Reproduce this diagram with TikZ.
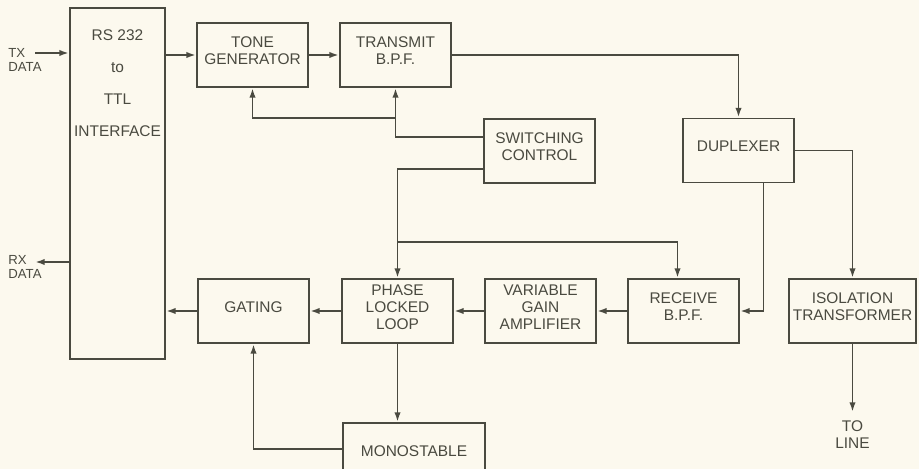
\documentclass[tikz,border=0pt]{standalone}
\usepackage{fontspec}
\setmainfont{Liberation Sans}
\usetikzlibrary{arrows.meta, positioning, calc}
\definecolor{myink}{RGB}{74, 74, 64}
\definecolor{mypaper}{RGB}{252, 249, 238}

\begin{document}
\begin{tikzpicture}[x=0.02cm, y=-0.02cm,
    txt/.style={text=myink, align=center, inner sep=1pt, font=\fontsize{8.8}{9.6}\selectfont},
    blk/.style={draw=myink, line width=1.1pt, minimum width=2.22cm, minimum height=1.28cm,
      label={[txt, yshift=0.08cm]center:#1}},
    lbl/.style={text=myink, align=left, inner sep=1pt, font=\fontsize{7.5}{8.5}\selectfont},
    wire/.style={draw=myink, line width=1.1pt},
    arr/.style={wire, -{Latex[length=5.5pt, width=3.6pt]}}]

    % --- Page ---
    \fill[mypaper] (0,0) rectangle (919,469);
    \useasboundingbox (0,0) rectangle (919,469);
    \clip (0,0) rectangle (919,469);

    % --- Interface block ---
    \node[blk={}, minimum width=1.9cm, minimum height=7.02cm] (iface) at (117.5,183.5) {};
    \node[txt, font=\fontsize{8.8}{18.1}\selectfont] (ifacetxt) at (117.5,83) {RS 232\\to\\TTL\\INTERFACE};

    % --- Transmit path ---
    \node[blk={TONE\\GENERATOR}] (tone) at (252.5,55) {};
    \node[blk={TRANSMIT\\B.P.F.}] (tx) at (395.5,55) {};
    \node[blk={SWITCHING\\CONTROL}] (sw) at (539.5,151) {};
    \node[blk={DUPLEXER}] (dup) at (738.5,150.5) {};

    % --- Receive path ---
    \node[blk={GATING}] (gate) at (253.5,311) {};
    \node[blk={PHASE\\LOCKED\\LOOP}] (pll) at (397.5,311) {};
    \node[blk={VARIABLE\\GAIN\\AMPLIFIER}] (vga) at (540.5,311) {};
    \node[blk={RECEIVE\\B.P.F.}] (rx) at (683.5,311) {};
    \node[blk={ISOLATION\\TRANSFORMER}, minimum width=2.54cm] (iso) at (852.5,311) {};
    \node[blk={MONOSTABLE}, minimum width=2.84cm] (mono) at (414,455) {};

    % --- Outside labels ---
    \coordinate (txin) at (35,53);
    \node[lbl] (txlbl) at (25,60) {TX\\DATA};
    \coordinate (rxout) at (35,262);
    \node[lbl] (rxlbl) at (25,267) {RX\\DATA};
    \coordinate (toline) at (852.5,412);
    \node[txt, below=4pt of toline] (linelbl) {TO\\LINE};

    % --- Connectors ---
    \draw[arr] (txin) -- (txin -| iface.west);
    \draw[arr] (rxout -| iface.west) -- (rxout);
    \draw[arr] (tone.west -| iface.east) -- (tone.west);
    \draw[arr] (tone) -- (tx);
    \draw[arr] (tx.east) -| (dup.north);
    \draw[arr] ($(sw.west)+(0,-14)$) -| (tx.south);
    \coordinate (swtop) at ($(tx.south)+(0,30)$);
    \draw[arr] (swtop) -| (tone.south);
    \draw[arr] ($(sw.west)+(0,18)$) -| (pll.north);
    \coordinate (swbot) at ($(pll.north)+(0,-36)$);
    \draw[arr] (swbot) -| ($(rx.north)+(-6,0)$);
    \draw[arr] ($(dup.south)+(25,0)$) |- (rx.east);
    \draw[arr] (dup.east) -| (iso.north);
    \draw[arr] (iso.south) -- (toline);
    \draw[arr] (rx) -- (vga);
    \draw[arr] (vga) -- (pll);
    \draw[arr] (pll) -- (gate);
    \draw[arr] (gate.west) -- (gate.west -| iface.east);
    \draw[arr] (pll.south) -- (pll.south |- mono.north);
    \draw[arr] ($(mono.west)+(0,-6)$) -| (gate.south);
\end{tikzpicture}
\end{document}
